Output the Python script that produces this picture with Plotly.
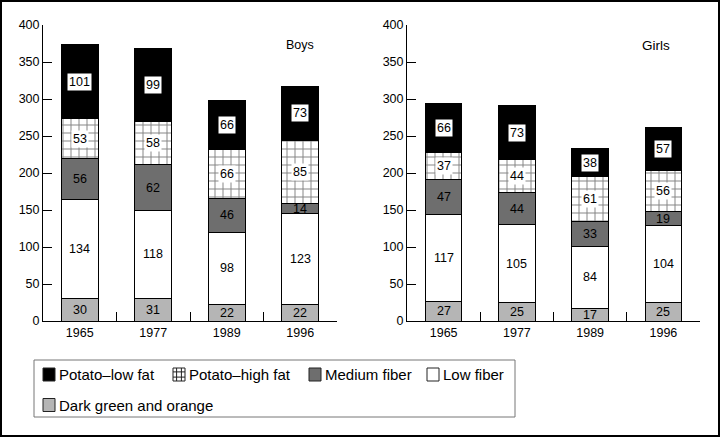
import plotly.graph_objects as go
import numpy as np

years = ["1965", "1977", "1989", "1996"]
series_names = ["Dark green and orange", "Low fiber", "Medium fiber", "Potato–high fat", "Potato–low fat"]

boys_dark_green = [30, 31, 22, 22]
boys_low_fiber = [134, 118, 98, 123]
boys_medium_fiber = [56, 62, 46, 14]
boys_potato_high_fat = [53, 58, 66, 85]
boys_potato_low_fat = [101, 99, 66, 73]

girls_dark_green = [27, 25, 17, 25]
girls_low_fiber = [117, 105, 84, 104]
girls_medium_fiber = [47, 44, 33, 19]
girls_potato_high_fat = [37, 44, 61, 56]
girls_potato_low_fat = [66, 73, 38, 57]

y_ticks = [0, 50, 100, 150, 200, 250, 300, 350, 400]

W, H = 720, 437
FONT = "Liberation Sans, Arial, sans-serif"

styles = [
    dict(color="#b5b5b5"),
    dict(color="#ffffff"),
    dict(color="#6e6e6e"),
    dict(color="#ffffff", pattern=dict(shape="+", size=8, solidity=0.22, fgcolor="#000000", bgcolor="#ffffff", fillmode="overlay")),
    dict(color="#000000"),
]
boxed = [False, False, False, True, True]

fig = go.Figure()
annotations = []
shapes = []

panels = [
    ("x", "y", [boys_dark_green, boys_low_fiber, boys_medium_fiber, boys_potato_high_fat, boys_potato_low_fat]),
    ("x2", "y2", [girls_dark_green, girls_low_fiber, girls_medium_fiber, girls_potato_high_fat, girls_potato_low_fat]),
]

for xa, ya, data in panels:
    base = np.zeros(len(years))
    for i, (name, vals) in enumerate(zip(series_names, data)):
        st = styles[i]
        marker = dict(color=st["color"], line=dict(color="#000000", width=1))
        if "pattern" in st:
            marker["pattern"] = st["pattern"]
        fig.add_trace(go.Bar(
            x=years, y=vals, name=name, xaxis=xa, yaxis=ya,
            marker=marker, showlegend=False, hoverinfo="skip",
        ))
        for j, v in enumerate(vals):
            ann = dict(x=j, y=base[j] + v / 2, xref=xa, yref=ya, text=str(v),
                       showarrow=False, font=dict(family=FONT, size=12.5, color="#000000"))
            if boxed[i]:
                ann.update(bgcolor="#ffffff", borderpad=1)
            annotations.append(ann)
        base = base + np.array(vals)

annotations.append(dict(x=300 / W, y=1 - 36 / H, xref="paper", yref="paper", text="Boys",
                        showarrow=False, font=dict(family=FONT, size=12.5, color="#000000")))
annotations.append(dict(x=672 / W, y=1 - 36 / H, xref="paper", yref="paper", text="Girls",
                        showarrow=False, font=dict(family=FONT, size=13.5, color="#000000")))

# ---- legend (drawn as keys + labels inside a box) ----
def px(x):
    return x / W

def py(y):
    return 1 - y / H

legend_order = [4, 3, 2, 1, 0]
legend_pos = [(43, 374.5), (173, 374.5), (309, 374.5), (427, 374.5), (43, 405)]
KEY_W, KEY_H = 12, 13
for idx, (sx, cy) in zip(legend_order, legend_pos):
    st = styles[idx]
    x0, x1 = sx, sx + KEY_W
    y0, y1 = cy - KEY_H / 2, cy + KEY_H / 2
    shapes.append(dict(type="rect", xref="paper", yref="paper", x0=px(x0), x1=px(x1), y0=py(y1), y1=py(y0),
                       fillcolor=st["color"], line=dict(color="#222222", width=1)))
    if "pattern" in st:
        for f in (0.3, 0.7):
            xx = x0 + f * KEY_W
            yy = y0 + f * KEY_H
            shapes.append(dict(type="line", xref="paper", yref="paper", x0=px(xx), x1=px(xx), y0=py(y1), y1=py(y0),
                               line=dict(color="#222222", width=1)))
            shapes.append(dict(type="line", xref="paper", yref="paper", x0=px(x0), x1=px(x1), y0=py(yy), y1=py(yy),
                               line=dict(color="#222222", width=1)))
    annotations.append(dict(x=px(sx + KEY_W + 2), y=py(cy), xref="paper", yref="paper", xanchor="left",
                            yanchor="middle", text=series_names[idx], showarrow=False,
                            font=dict(family=FONT, size=15, color="#000000")))

shapes.append(dict(type="rect", xref="paper", yref="paper", x0=px(34), x1=px(515), y0=py(417), y1=py(360),
                   line=dict(color="#777777", width=1), fillcolor="rgba(0,0,0,0)", layer="below"))
shapes.append(dict(type="rect", xref="paper", yref="paper", x0=px(1), x1=px(W - 1), y0=py(H - 1), y1=py(1),
                   line=dict(color="#000000", width=2), fillcolor="rgba(0,0,0,0)"))

ydom = [1 - 321 / H, 1 - 25 / H]
axis_common = dict(showline=True, linecolor="#000000", linewidth=1, ticks="inside", ticklen=9,
                   tickcolor="#000000", tickwidth=1, showgrid=False, zeroline=False, automargin=False,
                   tickfont=dict(family=FONT, size=12.5, color="#000000"))

fig.update_layout(
    width=W, height=H, autosize=False,
    margin=dict(l=0, r=0, t=0, b=0, pad=0, autoexpand=False),
    paper_bgcolor="#ffffff", plot_bgcolor="#ffffff",
    barmode="stack", bargap=0.5, showlegend=False,
    font=dict(family=FONT, size=12, color="#000000"),
    xaxis=dict(domain=[43 / W, 337 / W], anchor="y", type="category", tickson="boundaries",
               range=[-0.5, 3.5], autorange=False, tickangle=0, **axis_common),
    yaxis=dict(domain=ydom, anchor="x", range=[0, 400], autorange=False, tickvals=y_ticks, **axis_common),
    xaxis2=dict(domain=[407 / W, 700 / W], anchor="y2", type="category", tickson="boundaries",
                range=[-0.5, 3.5], autorange=False, tickangle=0, **axis_common),
    yaxis2=dict(domain=ydom, anchor="x2", range=[0, 400], autorange=False, tickvals=y_ticks, **axis_common),
    annotations=annotations,
    shapes=shapes,
)

fig.write_html("out.html", config={"displayModeBar": False, "responsive": False},
               post_script="document.body.style.margin='0px';document.body.style.overflow='hidden';")
